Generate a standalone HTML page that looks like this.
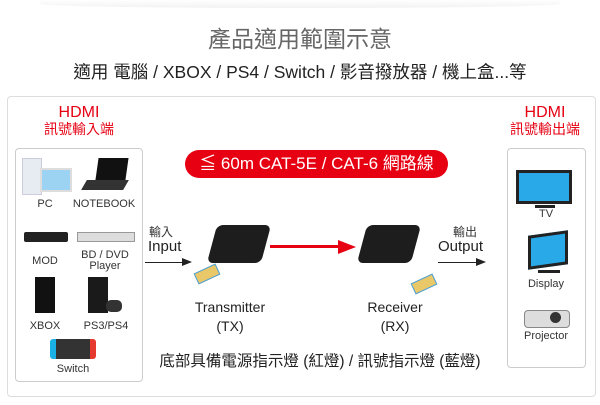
<!DOCTYPE html>
<html><head><meta charset="utf-8"><style>
body{margin:0;width:600px;height:405px;background:#fff;position:relative;overflow:hidden;font-family:"Liberation Sans","Noto Sans CJK TC",sans-serif;}
.a{position:absolute;white-space:nowrap}
.c{text-align:center}
.lbl{font-size:11px;color:#333;text-align:center;position:absolute;white-space:nowrap}
.box{position:absolute;border:1px solid #ccc;border-radius:4px;background:#fff}
</style></head><body>
<div class="a" style="left:40px;top:0;width:520px;height:8px;background:linear-gradient(#fff,#f2f2f2);border-radius:0 0 50% 50%"></div>
<div class="a c" style="left:0;width:600px;top:20px;font-size:23px;color:#666">產品適用範圍示意</div>
<div class="a c" style="left:0;width:600px;top:59px;font-size:17.5px;color:#222">適用 電腦 / XBOX / PS4 / Switch / 影音撥放器 / 機上盒...等</div>

<div class="box" style="left:7px;top:96px;width:587px;height:299px;border-color:#ddd"></div>

<div class="a c" style="left:16px;width:126px;top:105px;font-size:16px;color:#e60012;line-height:16px">HDMI<br><span style="font-size:14px">訊號輸入端</span></div>
<div class="a c" style="left:500px;width:90px;top:105px;font-size:16px;color:#e60012;line-height:16px">HDMI<br><span style="font-size:14px">訊號輸出端</span></div>

<div class="box" style="left:15px;top:148px;width:126px;height:232px"></div>
<div class="box" style="left:507px;top:148px;width:77px;height:218px"></div>

<div class="a" style="left:22px;top:158px;width:18px;height:35px;background:#e6ecf2;border:1px solid #ccd"></div>
<div class="a" style="left:40px;top:168px;width:28px;height:20px;background:#9cd3f2;border:2px solid #ddd"></div>
<div class="lbl" style="left:20px;width:50px;top:198px">PC</div>
<div class="a" style="left:97px;top:158px;width:30px;height:22px;background:#111;transform:skewX(-8deg)"></div>
<div class="a" style="left:84px;top:180px;width:42px;height:10px;background:#333;transform:skewX(-30deg)"></div>
<div class="lbl" style="left:70px;width:68px;top:198px">NOTEBOOK</div>

<div class="a" style="left:24px;top:232px;width:44px;height:10px;background:#222;border-radius:2px"></div>
<div class="lbl" style="left:20px;width:50px;top:255px">MOD</div>
<div class="a" style="left:77px;top:232px;width:56px;height:8px;background:#ddd;border:1px solid #999"></div>
<div class="lbl" style="left:72px;width:66px;top:250px;line-height:11px">BD / DVD<br>Player</div>

<div class="a" style="left:35px;top:277px;width:20px;height:36px;background:#111"></div>
<div class="lbl" style="left:20px;width:50px;top:320px">XBOX</div>
<div class="a" style="left:88px;top:277px;width:20px;height:36px;background:#1a1a1a"></div>
<div class="a" style="left:106px;top:300px;width:16px;height:12px;background:#333;border-radius:5px"></div>
<div class="lbl" style="left:75px;width:62px;top:320px">PS3/PS4</div>

<div class="a" style="left:50px;top:339px;width:6px;height:20px;background:#1ab1e6;border-radius:3px 0 0 3px"></div>
<div class="a" style="left:56px;top:339px;width:34px;height:20px;background:#333"></div>
<div class="a" style="left:90px;top:339px;width:6px;height:20px;background:#e63a30;border-radius:0 3px 3px 0"></div>
<div class="lbl" style="left:45px;width:56px;top:363px">Switch</div>

<div class="a" style="left:516px;top:170px;width:56px;height:34px;background:#29a9e8;border:3px solid #222;box-sizing:border-box"></div>
<div class="a" style="left:535px;top:205px;width:20px;height:3px;background:#222"></div>
<div class="lbl" style="left:520px;width:52px;top:208px">TV</div>
<div class="a" style="left:528px;top:233px;width:40px;height:34px;background:#29a9e8;border:3px solid #222;box-sizing:border-box;transform:skewY(-8deg)"></div>
<div class="a" style="left:538px;top:270px;width:22px;height:3px;background:#222"></div>
<div class="lbl" style="left:515px;width:62px;top:278px">Display</div>
<div class="a" style="left:524px;top:310px;width:44px;height:16px;background:#ddd;border-radius:4px;border:1px solid #888"></div>
<div class="a" style="left:550px;top:312px;width:11px;height:11px;background:#333;border-radius:50%"></div>
<div class="lbl" style="left:512px;width:68px;top:330px">Projector</div>

<div class="a c" style="left:185px;top:150px;width:263px;height:28px;line-height:28px;background:#e60012;border-radius:14px;color:#fff;font-size:17px">≦ 60m CAT-5E / CAT-6 網路線</div>

<div class="a" style="left:149px;top:223px;font-size:12px;color:#333">輸入</div>
<div class="a" style="left:148px;top:238px;font-size:15px;color:#222">Input</div>
<div class="a" style="left:145px;top:262px;width:40px;height:1px;background:#222"></div>
<div class="a" style="left:182px;top:258px;width:0;height:0;border-left:10px solid #222;border-top:4px solid transparent;border-bottom:4px solid transparent"></div>

<div class="a" style="left:453px;top:223px;font-size:12px;color:#333">輸出</div>
<div class="a" style="left:438px;top:238px;font-size:15px;color:#222">Output</div>
<div class="a" style="left:438px;top:262px;width:40px;height:1px;background:#222"></div>
<div class="a" style="left:476px;top:258px;width:0;height:0;border-left:10px solid #222;border-top:4px solid transparent;border-bottom:4px solid transparent"></div>

<div class="a" style="left:212px;top:225px;width:54px;height:38px;background:#1d1d1d;border-radius:6px;transform:skewX(-15deg)"></div>
<div class="a" style="left:195px;top:268px;width:22px;height:10px;background:#e9c86a;border:1px solid #4aa0d8;transform:rotate(-25deg)"></div>
<div class="a c" style="left:185px;width:90px;top:298px;font-size:14px;color:#222;line-height:19px">Transmitter<br>(TX)</div>
<div class="a" style="left:270px;top:245px;width:70px;height:3px;background:#e60012"></div>
<div class="a" style="left:338px;top:240px;width:0;height:0;border-left:18px solid #e60012;border-top:7px solid transparent;border-bottom:7px solid transparent"></div>
<div class="a" style="left:362px;top:225px;width:54px;height:38px;background:#1d1d1d;border-radius:6px;transform:skewX(-15deg)"></div>
<div class="a" style="left:412px;top:278px;width:22px;height:10px;background:#e9c86a;border:1px solid #4aa0d8;transform:rotate(-25deg)"></div>
<div class="a c" style="left:350px;width:90px;top:298px;font-size:14px;color:#222;line-height:19px">Receiver<br>(RX)</div>

<div class="a c" style="left:120px;width:400px;top:349px;font-size:15.5px;color:#222">底部具備電源指示燈 (紅燈) / 訊號指示燈 (藍燈)</div>
</body></html>
